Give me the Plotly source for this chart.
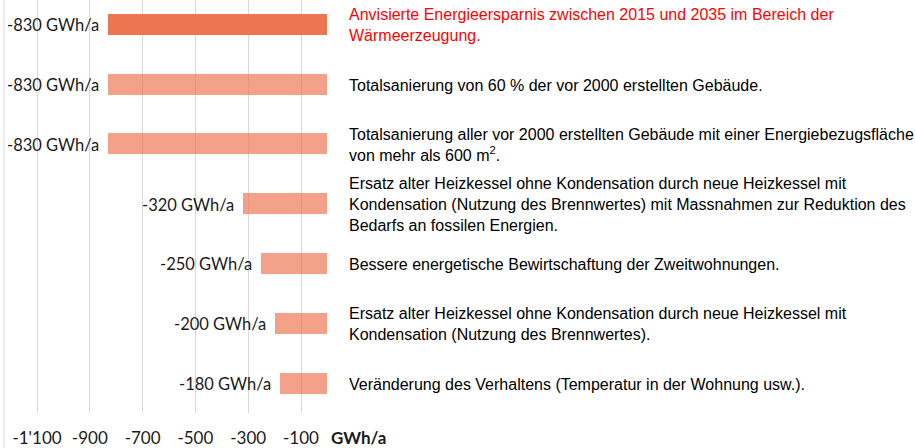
import plotly.graph_objects as go

# ---- data ----
values = [-830, -830, -830, -320, -250, -200, -180]
descriptions = [
    "Anvisierte Energieersparnis zwischen 2015 und 2035 im Bereich der<br>Wärmeerzeugung.",
    "Totalsanierung von 60 % der vor 2000 erstellten Gebäude.",
    "Totalsanierung aller vor 2000 erstellten Gebäude mit einer Energiebezugsfläche<br>von mehr als 600 m<sup>2</sup>.",
    "Ersatz alter Heizkessel ohne Kondensation durch neue Heizkessel mit<br>Kondensation (Nutzung des Brennwertes) mit Massnahmen zur Reduktion des<br>Bedarfs an fossilen Energien.",
    "Bessere energetische Bewirtschaftung der Zweitwohnungen.",
    "Ersatz alter Heizkessel ohne Kondensation durch neue Heizkessel mit<br>Kondensation (Nutzung des Brennwertes).",
    "Veränderung des Verhaltens (Temperatur in der Wohnung usw.).",
]
unit = "GWh/a"
tick_values = [-1100, -900, -700, -500, -300, -100]
tick_labels = ["-1'100", "-900", "-700", "-500", "-300", "-100"]

# ---- styling ----
W, H = 915, 448
ML, MR, MT, MB = 4, 0, 0, 35
DARK = "rgb(237,117,80)"
LIGHT = "rgba(237,117,80,0.68)"
GRID = "#d9d9d9"
LABEL_FONT = "Lato"
DESC_FONT = "Liberation Sans, Arial"

idx = list(range(len(values)))
colors = [DARK] + [LIGHT] * (len(values) - 1)

fig = go.Figure()
fig.add_trace(go.Bar(
    x=values, y=idx, orientation="h", width=0.35,
    marker=dict(color=colors, line=dict(width=0)),
    hoverinfo="skip", showlegend=False,
))

annotations = []
for i, v in enumerate(values):
    annotations.append(dict(
        x=v, y=i, xref="x", yref="y", text=f"{v} {unit}",
        xanchor="right", yanchor="middle", xshift=-7, yshift=-1, showarrow=False,
        font=dict(family=LABEL_FONT, size=16.5, color="#1a1a1a"),
    ))
desc_x = (347 - ML) / (W - ML - MR)
for i, d in enumerate(descriptions):
    annotations.append(dict(
        x=desc_x, y=i, xref="paper", yref="y", text=d, align="left",
        xanchor="left", yanchor="middle", yshift=-1, showarrow=False,
        font=dict(family=DESC_FONT, size=16, color="#ff0000" if i == 0 else "#000000"),
    ))
annotations.append(dict(
    x=(329 - ML) / (W - ML - MR), y=-24 / (H - MT - MB), xref="paper", yref="paper",
    text=f"<b>{unit}</b>", xanchor="left", yanchor="middle", showarrow=False,
    font=dict(family=LABEL_FONT, size=17, color="#1a1a1a"),
))

fig.update_layout(
    width=W, height=H,
    margin=dict(l=ML, r=MR, t=MT, b=MB, pad=0),
    paper_bgcolor="white", plot_bgcolor="white",
    bargap=0,
    xaxis=dict(
        range=[-1225, 2225.8], tickvals=tick_values, ticktext=tick_labels,
        showgrid=True, gridcolor=GRID, gridwidth=1, zeroline=False,
        showline=False, ticks="", ticklabelstandoff=13,
        tickfont=dict(family=LABEL_FONT, size=17, color="#1a1a1a"),
    ),
    yaxis=dict(
        range=[6.5, -0.406], showticklabels=False, showgrid=False,
        zeroline=False, showline=False, ticks="",
    ),
    annotations=annotations,
    shapes=[dict(
        type="line", xref="paper", yref="paper", x0=0, x1=0,
        y0=-MB / (H - MT - MB), y1=1, line=dict(color=GRID, width=1),
    )],
)

fig.write_html(
    "out.html",
    config={"displayModeBar": False},
    post_script="document.body.style.margin='0';",
)
